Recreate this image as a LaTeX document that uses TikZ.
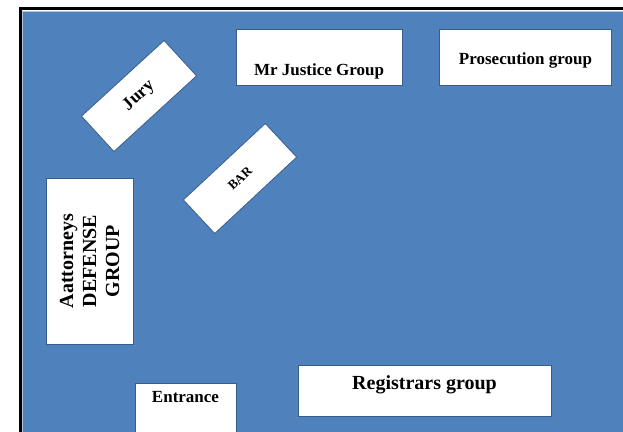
\documentclass[tikz,border=0pt]{standalone}
\usepackage{fontspec}
\setmainfont{Liberation Serif}
\definecolor{roomblue}{HTML}{4F81BD}
\definecolor{edgeblue}{HTML}{385D8A}
\tikzset{
  room/.style={draw=edgeblue,line width=0.8pt,fill=white,inner sep=0pt,align=center,
    font=\bfseries\fontsize{17}{19}\selectfont},
  bigroom/.style={room,font=\bfseries\fontsize{20}{23}\selectfont},
}
\begin{document}
\begin{tikzpicture}[x=1pt,y=-1pt]
	\useasboundingbox (0,0) rectangle (623,431);
	\fill[white] (0,0) rectangle (623,431);
	% court room floor
	\draw[fill=roomblue,draw=roomblue!45!white,line width=1pt] (22,11) rectangle (626,434);
	\draw[line width=2.5pt] (20.5,434) -- (20.5,8.5) -- (626,8.5);
	\begin{scope}
		\clip (22,11) rectangle (623,431);
		\node[room,minimum width=166,minimum height=56,text height=41pt,text depth=4pt] (justice) at (319,57) {Mr Justice Group};
		\node[room,minimum width=172,minimum height=56,text height=18pt,text depth=4pt] (prosecution) at (525.5,57) {Prosecution group};
		\node[room,rotate=42.5,minimum width=112,minimum height=48,font=\bfseries\fontsize{18}{20}\selectfont] (jury) at (139,96) {Jury};
		\node[room,rotate=43,minimum width=112,minimum height=46,font=\bfseries\fontsize{13}{15}\selectfont] (bar) at (240,178.5) {BAR};
		\node[bigroom,rotate=90,minimum width=166,minimum height=87] (defense) at (89.5,261) {Aattorneys\\DEFENSE\\GROUP};
		\node[room,minimum width=101,minimum height=60,text height=12pt,text depth=34pt] (entrance) at (185.5,413) {Entrance};
		\node[bigroom,minimum width=253,minimum height=51,text height=14pt,text depth=17pt] (registrars) at (424.5,390.5) {Registrars group};
	\end{scope}
\end{tikzpicture}
\end{document}
